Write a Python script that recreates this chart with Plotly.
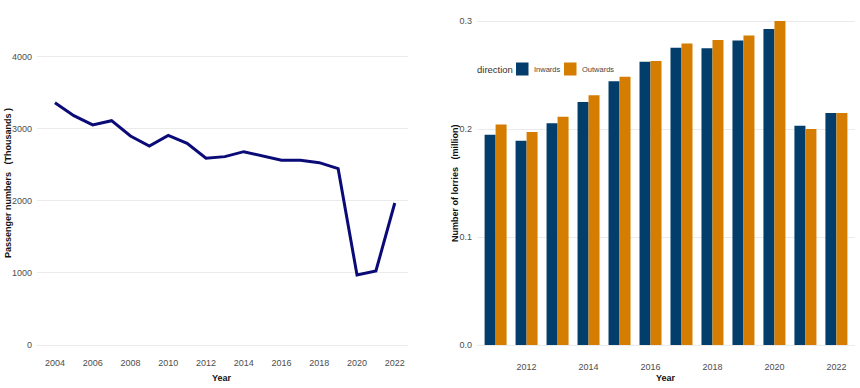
import plotly.graph_objects as go

# ---- data ----
pass_years = list(range(2004, 2023))
passengers = [3365, 3185, 3056, 3115, 2903, 2764, 2912, 2801, 2593, 2616,
              2685, 2630, 2565, 2565, 2532, 2449, 972, 1028, 1972]

lorry_years = list(range(2011, 2023))
inwards = [0.1947, 0.1892, 0.2053, 0.2250, 0.2442, 0.2623, 0.2753, 0.2747,
           0.2821, 0.2926, 0.2031, 0.2148]
outwards = [0.2043, 0.1972, 0.2114, 0.2312, 0.2485, 0.2630, 0.2793, 0.2824,
            0.2867, 0.3000, 0.2000, 0.2148]

left_yticks = [0, 1000, 2000, 3000, 4000]
left_xticks = list(range(2004, 2023, 2))
right_yticks = [0.0, 0.1, 0.2, 0.3]
right_yticklabels = ["0.0", "0.1", "0.2", "0.3"]
right_xticks = list(range(2012, 2023, 2))

series_names = ["Inwards", "Outwards"]
series_colors = ["#023d6b", "#d57d00"]

W, H = 860, 388
FONT = "Liberation Sans, Arial, sans-serif"
GRID = "#ebebeb"
TICKC = "#4d4d4d"
NB = "\u00a0"

fig = go.Figure()

fig.add_trace(go.Scatter(x=pass_years, y=passengers, mode="lines",
                         line=dict(color="#0b0b78", width=3),
                         showlegend=False, xaxis="x", yaxis="y"))

for name, vals, col in zip(series_names, [inwards, outwards], series_colors):
    fig.add_trace(go.Bar(x=lorry_years, y=vals, name=name, showlegend=False,
                         marker=dict(color=col, line=dict(width=0)),
                         xaxis="x2", yaxis="y2"))

top_px, bot_px = 15, 354
ydom = [(H - bot_px) / H, (H - top_px) / H]

tickfont = dict(family=FONT, size=9, color=TICKC)
common_x = dict(showgrid=False, zeroline=False, showline=False, ticks="",
                tickfont=tickfont, automargin=False)
common_y = dict(showgrid=True, gridcolor=GRID, gridwidth=1, zeroline=False,
                showline=False, ticks="", tickfont=tickfont, automargin=False,
                ticklabelstandoff=4)

fig.update_layout(
    width=W, height=H,
    margin=dict(l=0, r=0, t=0, b=0),
    paper_bgcolor="white", plot_bgcolor="white",
    barmode="group", bargap=0.29, bargroupgap=0,
    xaxis=dict(domain=[37 / W, 408 / W], range=[2003.05, 2022.7],
               tickvals=left_xticks, ticklabelstandoff=2, **common_x),
    yaxis=dict(domain=ydom, range=[-125, 4583], tickvals=left_yticks, **common_y),
    xaxis2=dict(domain=[477 / W, 855 / W], range=[2010.4, 2022.6],
                tickvals=right_xticks, anchor="y2", ticklabelstandoff=6, **common_x),
    yaxis2=dict(domain=ydom, range=[-0.00833, 0.3056], tickvals=right_yticks,
                ticktext=right_yticklabels, anchor="x2", **common_y),
    showlegend=False,
    font=dict(family=FONT),
)

annots = [
    dict(text="<b>Year</b>", x=222 / W, y=(H - 378) / H),
    dict(text="<b>Year</b>", x=666 / W, y=(H - 378) / H),
    dict(text="<b>Passenger numbers" + NB * 3 + "(Thousands )</b>", x=8 / W,
         y=(H - 183) / H, textangle=-90),
    dict(text="<b>Number of lorries" + NB * 3 + "(million)</b>", x=455 / W,
         y=(H - 183) / H, textangle=-90),
]
for a in annots:
    fig.add_annotation(xref="paper", yref="paper", showarrow=False,
                       xanchor="center", yanchor="middle",
                       font=dict(family=FONT, size=9, color="#111111"), **a)

# ---- legend (key) ----
leg_y = (H - 69) / H
fig.add_annotation(xref="paper", yref="paper", showarrow=False, xanchor="left",
                   yanchor="middle", x=475 / W, y=leg_y, text="direction",
                   font=dict(family=FONT, size=9.5, color="#333333"))
key_x = [516, 564]
for name, col, kx in zip(series_names, series_colors, key_x):
    fig.add_shape(type="rect", xref="paper", yref="paper",
                  x0=kx / W, x1=(kx + 12.5) / W, y0=(H - 75.5) / H, y1=(H - 62.5) / H,
                  fillcolor=col, line=dict(width=0))
    fig.add_annotation(xref="paper", yref="paper", showarrow=False, xanchor="left",
                       yanchor="middle", x=(kx + 16) / W, y=leg_y, text=name,
                       font=dict(family=FONT, size=7.5, color="#444444"))

fig.write_html("out.html", config={"displayModeBar": False},
               post_script="document.body.style.margin='0';document.body.style.overflow='hidden';")
